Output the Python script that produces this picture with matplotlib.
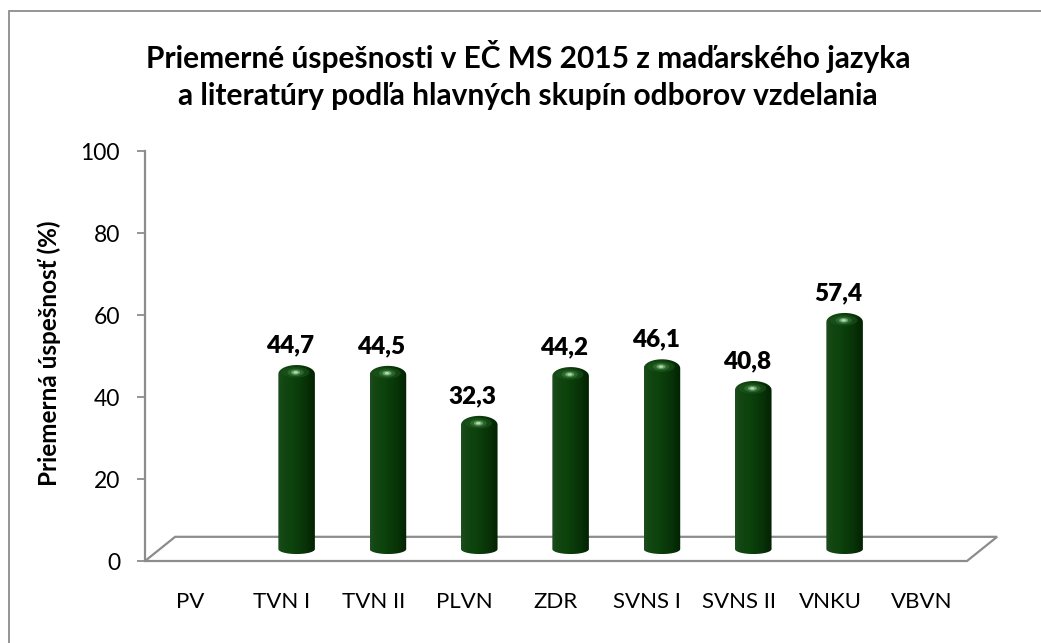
import numpy as np
import matplotlib
matplotlib.use("Agg")
import matplotlib.pyplot as plt
from matplotlib.path import Path
from matplotlib.patches import PathPatch, Ellipse, Rectangle, Polygon
from matplotlib.colors import LinearSegmentedColormap

# údaje z grafu
categories = ["PV", "TVN I", "TVN II", "PLVN", "ZDR", "SVNS I", "SVNS II", "VNKU", "VBVN"]
values = [None, 44.7, 44.5, 32.3, 44.2, 46.1, 40.8, 57.4, None]
value_labels = ["", "44,7", "44,5", "32,3", "44,2", "46,1", "40,8", "57,4", ""]
yticks = [0, 20, 40, 60, 80, 100]

title = "Priemerné úspešnosti v EČ MS 2015 z maďarského jazyka\na literatúry podľa hlavných skupín odborov vzdelania"
ylabel = "Priemerná úspešnosť (%)"

plt.rcParams['font.family'] = ['Lato', 'DejaVu Sans']

W, H = 1041, 643
fig = plt.figure(figsize=(W / 100, H / 100), dpi=100)

# rámček grafu
fig.patches.append(Rectangle((9 / W, -0.1), 1.2, 1.1 - 11 / H, transform=fig.transFigure,
                             fill=False, edgecolor="#8c8c8c", linewidth=1.3))

# osi: 0 -> y=561 px, 100 -> y=151 px, kategórie od x=145 do 967 px
ax = fig.add_axes([145 / W, (H - 561) / H, 822 / W, 410 / H])
ax.set_xlim(-0.5, 8.5)
ax.set_ylim(0, 100)
for s in ["top", "right", "bottom"]:
    ax.spines[s].set_visible(False)
ax.spines["left"].set_color("#8c8c8c")
ax.spines["left"].set_linewidth(1.6)
ax.set_yticks(yticks)
ax.tick_params(axis="y", direction="out", length=6, width=1.3, color="#8c8c8c",
               labelsize=16.5, pad=12)
ax.set_xticks(range(len(categories)))
ax.set_xticklabels(categories, fontsize=16)
ax.tick_params(axis="x", length=0, pad=22)

# podlaha (3D)
dx, dy = 0.33, 5.9
floor = [(-0.5, 0), (8.5, 0), (8.5 + dx, dy), (-0.5 + dx, dy)]
ax.add_patch(Polygon(floor, closed=True, facecolor="white", edgecolor="#8c8c8c",
                     linewidth=1.6, clip_on=False, zorder=1))

# valcové stĺpce
cmap = LinearSegmentedColormap.from_list("valec", [
    (0.0, "#1d4d1d"), (0.15, "#124612"), (0.4, "#0c420c"),
    (0.75, "#083308"), (1.0, "#032203")])
grad = np.linspace(0, 1, 64).reshape(1, -1)

hw = 0.2        # polovica šírky stĺpca
base = 2.9      # stred spodnej elipsy
rb = 1.2        # spodná elipsa
rc = 2.2        # vrchná kupola
t = np.linspace(np.pi, 2 * np.pi, 40)

for i, v in enumerate(values):
    if v is None:
        continue
    xc = i + 0.16
    top = v + 3.1 - rc
    bx = xc + hw * np.cos(t)
    by = base + rb * np.sin(t)
    tx = xc + hw * np.cos(t)[::-1] * -1
    ty = top - rc * np.sin(t)[::-1]
    tx, ty = tx[::-1], ty[::-1]
    verts = np.concatenate([np.column_stack([bx, by]), np.column_stack([tx, ty])])
    verts = np.vstack([verts, verts[:1]])
    path = Path(verts, closed=True)
    clip = PathPatch(path, transform=ax.transData, facecolor="none", edgecolor="none")
    ax.add_patch(clip)
    im = ax.imshow(grad, cmap=cmap, extent=[xc - hw, xc + hw, base - rb, top + rc],
                   aspect="auto", interpolation="bicubic", zorder=3)
    im.set_clip_path(clip)
    # odlesk na kupole
    for w, h, c, a in [(0.30, 2.6, "#1f571f", 0.55), (0.18, 1.8, "#3b7a3b", 0.6),
                       (0.10, 1.1, "#79b279", 0.8), (0.05, 0.6, "#b9e0b9", 0.9)]:
        ax.add_patch(Ellipse((xc - 0.01, top + 0.4), w, h, facecolor=c,
                             edgecolor="none", alpha=a, zorder=4, clip_path=clip))
    ax.text(i + 0.09, v + 7.9, value_labels[i], ha="center", va="center",
            fontsize=17.5, fontweight="heavy", zorder=6)

ax.set_xlim(-0.5, 8.5)
ax.set_ylim(0, 100)

fig.text(49 / W, 1 - 353 / H, ylabel, rotation=90, ha="center", va="center",
         fontsize=17.5, fontweight="bold")
fig.text(528 / W, 1 - 75 / H, title, ha="center", va="center", fontsize=21.5,
         fontweight="bold", linespacing=1.35)

fig.savefig("out.png", dpi=100)
